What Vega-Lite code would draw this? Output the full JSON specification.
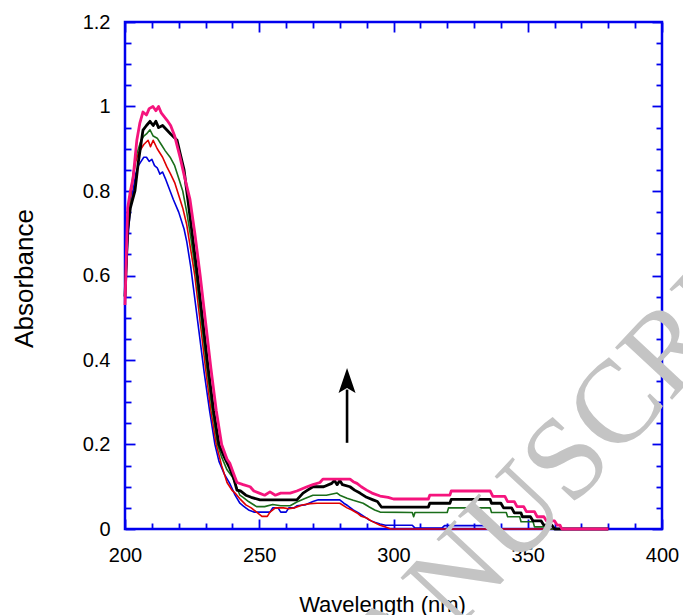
{
  "$schema": "https://vega.github.io/schema/vega-lite/v6.json",
  "width": 537,
  "height": 507,
  "autosize": {"type": "none"},
  "padding": {"left": 125, "top": 22, "right": 21, "bottom": 86},
  "background": "white",
  "config": {
    "view": {"stroke": "#0000ee", "strokeWidth": 2.5},
    "font": "Liberation Sans",
    "axis": {
      "domain": false,
      "grid": false,
      "labelFlush": false,
      "labelFont": "Liberation Sans",
      "labelFontSize": 20,
      "labelColor": "black",
      "titleFont": "Liberation Sans",
      "titleFontWeight": "normal",
      "titleColor": "black",
      "tickColor": "#0000ee",
      "tickWidth": 1.8
    }
  },
  "datasets": {
    "spectra": [
      {"s":"b","w":200,"a":0.55},{"s":"b","w":201,"a":0.68},{"s":"b","w":202,"a":0.76},{"s":"b","w":203,"a":0.8},{"s":"b","w":204,"a":0.84},{"s":"b","w":205,"a":0.86},{"s":"b","w":206,"a":0.87},{"s":"b","w":207,"a":0.88},{"s":"b","w":208,"a":0.88},{"s":"b","w":209,"a":0.87},{"s":"b","w":210,"a":0.875},{"s":"b","w":211,"a":0.86},{"s":"b","w":212,"a":0.855},{"s":"b","w":213,"a":0.84},{"s":"b","w":214,"a":0.845},{"s":"b","w":215,"a":0.83},{"s":"b","w":216.8,"a":0.8},{"s":"b","w":218,"a":0.78},{"s":"b","w":220,"a":0.75},{"s":"b","w":222,"a":0.71},{"s":"b","w":223,"a":0.68},{"s":"b","w":224.5,"a":0.62},{"s":"b","w":225.5,"a":0.57},{"s":"b","w":227.5,"a":0.47},{"s":"b","w":229.5,"a":0.37},{"s":"b","w":231.5,"a":0.28},{"s":"b","w":233.5,"a":0.2},{"s":"b","w":235,"a":0.16},{"s":"b","w":237,"a":0.13},{"s":"b","w":239,"a":0.108},{"s":"b","w":241,"a":0.08},{"s":"b","w":242.8,"a":0.061},{"s":"b","w":244,"a":0.055},{"s":"b","w":246,"a":0.045},{"s":"b","w":248,"a":0.04},{"s":"b","w":254,"a":0.04},{"s":"b","w":255,"a":0.05},{"s":"b","w":257,"a":0.05},{"s":"b","w":258,"a":0.04},{"s":"b","w":260,"a":0.04},{"s":"b","w":261,"a":0.05},{"s":"b","w":263,"a":0.05},{"s":"b","w":264,"a":0.055},{"s":"b","w":267,"a":0.057},{"s":"b","w":270,"a":0.065},{"s":"b","w":272,"a":0.069},{"s":"b","w":280,"a":0.069},{"s":"b","w":281.5,"a":0.061},{"s":"b","w":283,"a":0.055},{"s":"b","w":285,"a":0.045},{"s":"b","w":287,"a":0.038},{"s":"b","w":289,"a":0.03},{"s":"b","w":291,"a":0.021},{"s":"b","w":293,"a":0.016},{"s":"b","w":295,"a":0.012},{"s":"b","w":297,"a":0.009},{"s":"b","w":307,"a":0.009},{"s":"b","w":308,"a":0.002},{"s":"b","w":318,"a":0.002},{"s":"b","w":319,"a":0.008},{"s":"b","w":337,"a":0.008},{"s":"b","w":338,"a":0},{"s":"b","w":380,"a":0},
      {"s":"r","w":200,"a":0.55},{"s":"r","w":201,"a":0.7},{"s":"r","w":202,"a":0.78},{"s":"r","w":203,"a":0.83},{"s":"r","w":204,"a":0.87},{"s":"r","w":205,"a":0.89},{"s":"r","w":206,"a":0.9},{"s":"r","w":207,"a":0.91},{"s":"r","w":208.6,"a":0.92},{"s":"r","w":209.5,"a":0.905},{"s":"r","w":210.5,"a":0.92},{"s":"r","w":212,"a":0.9},{"s":"r","w":213,"a":0.89},{"s":"r","w":214,"a":0.88},{"s":"r","w":215.6,"a":0.857},{"s":"r","w":217,"a":0.84},{"s":"r","w":218.5,"a":0.82},{"s":"r","w":220,"a":0.79},{"s":"r","w":221.5,"a":0.76},{"s":"r","w":223,"a":0.72},{"s":"r","w":224.5,"a":0.66},{"s":"r","w":226,"a":0.6},{"s":"r","w":228,"a":0.49},{"s":"r","w":230,"a":0.38},{"s":"r","w":232,"a":0.28},{"s":"r","w":234,"a":0.2},{"s":"r","w":236,"a":0.15},{"s":"r","w":238,"a":0.11},{"s":"r","w":239.8,"a":0.092},{"s":"r","w":241,"a":0.085},{"s":"r","w":243,"a":0.07},{"s":"r","w":245,"a":0.057},{"s":"r","w":247,"a":0.05},{"s":"r","w":249,"a":0.04},{"s":"r","w":251,"a":0.03},{"s":"r","w":253,"a":0.03},{"s":"r","w":254,"a":0.04},{"s":"r","w":256,"a":0.05},{"s":"r","w":259,"a":0.05},{"s":"r","w":261,"a":0.048},{"s":"r","w":263,"a":0.05},{"s":"r","w":266,"a":0.057},{"s":"r","w":269,"a":0.06},{"s":"r","w":271.5,"a":0.061},{"s":"r","w":280,"a":0.061},{"s":"r","w":282.7,"a":0.05},{"s":"r","w":284.5,"a":0.045},{"s":"r","w":286.4,"a":0.038},{"s":"r","w":288,"a":0.03},{"s":"r","w":290,"a":0.026},{"s":"r","w":292,"a":0.018},{"s":"r","w":295,"a":0.009},{"s":"r","w":297,"a":0.005},{"s":"r","w":299,"a":0},{"s":"r","w":380,"a":0},
      {"s":"g","w":200,"a":0.56},{"s":"g","w":201,"a":0.7},{"s":"g","w":202,"a":0.79},{"s":"g","w":203,"a":0.84},{"s":"g","w":204,"a":0.88},{"s":"g","w":205,"a":0.9},{"s":"g","w":206,"a":0.92},{"s":"g","w":207,"a":0.93},{"s":"g","w":208,"a":0.935},{"s":"g","w":209.3,"a":0.945},{"s":"g","w":210.5,"a":0.93},{"s":"g","w":212,"a":0.925},{"s":"g","w":213.5,"a":0.91},{"s":"g","w":215,"a":0.895},{"s":"g","w":216.8,"a":0.88},{"s":"g","w":218.5,"a":0.86},{"s":"g","w":220,"a":0.83},{"s":"g","w":221.5,"a":0.8},{"s":"g","w":223,"a":0.75},{"s":"g","w":224.5,"a":0.69},{"s":"g","w":226.5,"a":0.6},{"s":"g","w":228.5,"a":0.49},{"s":"g","w":230.5,"a":0.38},{"s":"g","w":232.5,"a":0.28},{"s":"g","w":234.5,"a":0.2},{"s":"g","w":236,"a":0.17},{"s":"g","w":238,"a":0.14},{"s":"g","w":240,"a":0.123},{"s":"g","w":241.5,"a":0.1},{"s":"g","w":242.8,"a":0.08},{"s":"g","w":244,"a":0.075},{"s":"g","w":246,"a":0.065},{"s":"g","w":249,"a":0.053},{"s":"g","w":252,"a":0.053},{"s":"g","w":255,"a":0.058},{"s":"g","w":258,"a":0.055},{"s":"g","w":261.5,"a":0.055},{"s":"g","w":264,"a":0.064},{"s":"g","w":267,"a":0.072},{"s":"g","w":270,"a":0.08},{"s":"g","w":275,"a":0.08},{"s":"g","w":279,"a":0.085},{"s":"g","w":280,"a":0.08},{"s":"g","w":282.7,"a":0.073},{"s":"g","w":285,"a":0.068},{"s":"g","w":288.7,"a":0.061},{"s":"g","w":291,"a":0.052},{"s":"g","w":293,"a":0.045},{"s":"g","w":295,"a":0.04},{"s":"g","w":307,"a":0.039},{"s":"g","w":307.5,"a":0.029},{"s":"g","w":308,"a":0.039},{"s":"g","w":320,"a":0.039},{"s":"g","w":320.5,"a":0.05},{"s":"g","w":336,"a":0.05},{"s":"g","w":336.5,"a":0.039},{"s":"g","w":342,"a":0.039},{"s":"g","w":342.5,"a":0.029},{"s":"g","w":347,"a":0.029},{"s":"g","w":347.5,"a":0.017},{"s":"g","w":352,"a":0.017},{"s":"g","w":352.5,"a":0.005},{"s":"g","w":357,"a":0.005},{"s":"g","w":358,"a":0},{"s":"g","w":380,"a":0},
      {"s":"k","w":200,"a":0.55},{"s":"k","w":201,"a":0.71},{"s":"k","w":202,"a":0.76},{"s":"k","w":203.7,"a":0.8},{"s":"k","w":205,"a":0.87},{"s":"k","w":206.7,"a":0.944},{"s":"k","w":208,"a":0.955},{"s":"k","w":209.3,"a":0.965},{"s":"k","w":210.5,"a":0.955},{"s":"k","w":211.5,"a":0.965},{"s":"k","w":212.5,"a":0.95},{"s":"k","w":214,"a":0.955},{"s":"k","w":215.5,"a":0.945},{"s":"k","w":217,"a":0.935},{"s":"k","w":219.4,"a":0.92},{"s":"k","w":220.5,"a":0.89},{"s":"k","w":222,"a":0.85},{"s":"k","w":223,"a":0.8},{"s":"k","w":225,"a":0.7},{"s":"k","w":227,"a":0.6},{"s":"k","w":229,"a":0.49},{"s":"k","w":231,"a":0.38},{"s":"k","w":233,"a":0.28},{"s":"k","w":235,"a":0.2},{"s":"k","w":237,"a":0.17},{"s":"k","w":239,"a":0.144},{"s":"k","w":240.5,"a":0.12},{"s":"k","w":241.7,"a":0.092},{"s":"k","w":243,"a":0.09},{"s":"k","w":245,"a":0.08},{"s":"k","w":247,"a":0.075},{"s":"k","w":250.3,"a":0.069},{"s":"k","w":264,"a":0.069},{"s":"k","w":266.3,"a":0.085},{"s":"k","w":268,"a":0.092},{"s":"k","w":270,"a":0.1},{"s":"k","w":274,"a":0.1},{"s":"k","w":277,"a":0.108},{"s":"k","w":278,"a":0.115},{"s":"k","w":279,"a":0.105},{"s":"k","w":280,"a":0.115},{"s":"k","w":281,"a":0.105},{"s":"k","w":283.8,"a":0.1},{"s":"k","w":285.5,"a":0.092},{"s":"k","w":287.5,"a":0.085},{"s":"k","w":290,"a":0.075},{"s":"k","w":292.4,"a":0.069},{"s":"k","w":294,"a":0.065},{"s":"k","w":295.5,"a":0.052},{"s":"k","w":313,"a":0.052},{"s":"k","w":313.5,"a":0.061},{"s":"k","w":321,"a":0.061},{"s":"k","w":321.5,"a":0.07},{"s":"k","w":336,"a":0.07},{"s":"k","w":336.5,"a":0.061},{"s":"k","w":340,"a":0.061},{"s":"k","w":341,"a":0.05},{"s":"k","w":344,"a":0.05},{"s":"k","w":345,"a":0.038},{"s":"k","w":347.5,"a":0.038},{"s":"k","w":348,"a":0.029},{"s":"k","w":351,"a":0.029},{"s":"k","w":352,"a":0.019},{"s":"k","w":355,"a":0.019},{"s":"k","w":356,"a":0.009},{"s":"k","w":359,"a":0.009},{"s":"k","w":360,"a":0},{"s":"k","w":380,"a":0},
      {"s":"m","w":200,"a":0.53},{"s":"m","w":201,"a":0.76},{"s":"m","w":202,"a":0.8},{"s":"m","w":203,"a":0.83},{"s":"m","w":204.4,"a":0.92},{"s":"m","w":205.5,"a":0.96},{"s":"m","w":206.7,"a":0.987},{"s":"m","w":208,"a":0.98},{"s":"m","w":209,"a":0.995},{"s":"m","w":210.4,"a":1.0},{"s":"m","w":211.5,"a":0.99},{"s":"m","w":212.5,"a":1.0},{"s":"m","w":213.5,"a":0.985},{"s":"m","w":215.6,"a":0.968},{"s":"m","w":217,"a":0.955},{"s":"m","w":218.5,"a":0.93},{"s":"m","w":220.5,"a":0.88},{"s":"m","w":222.3,"a":0.83},{"s":"m","w":224.2,"a":0.78},{"s":"m","w":226,"a":0.7},{"s":"m","w":228,"a":0.6},{"s":"m","w":230,"a":0.49},{"s":"m","w":232,"a":0.38},{"s":"m","w":234,"a":0.28},{"s":"m","w":236,"a":0.2},{"s":"m","w":238,"a":0.165},{"s":"m","w":239,"a":0.156},{"s":"m","w":240.5,"a":0.13},{"s":"m","w":241.7,"a":0.11},{"s":"m","w":244,"a":0.105},{"s":"m","w":246.6,"a":0.1},{"s":"m","w":248,"a":0.09},{"s":"m","w":250,"a":0.085},{"s":"m","w":252,"a":0.08},{"s":"m","w":254,"a":0.088},{"s":"m","w":256,"a":0.08},{"s":"m","w":258,"a":0.085},{"s":"m","w":261.5,"a":0.085},{"s":"m","w":264,"a":0.09},{"s":"m","w":267.8,"a":0.1},{"s":"m","w":270,"a":0.105},{"s":"m","w":272.6,"a":0.11},{"s":"m","w":273.7,"a":0.118},{"s":"m","w":283.8,"a":0.118},{"s":"m","w":285,"a":0.112},{"s":"m","w":286.4,"a":0.108},{"s":"m","w":288,"a":0.1},{"s":"m","w":290,"a":0.092},{"s":"m","w":292,"a":0.085},{"s":"m","w":295,"a":0.078},{"s":"m","w":298,"a":0.075},{"s":"m","w":300,"a":0.071},{"s":"m","w":313,"a":0.071},{"s":"m","w":313.5,"a":0.08},{"s":"m","w":321,"a":0.08},{"s":"m","w":321.5,"a":0.09},{"s":"m","w":336,"a":0.09},{"s":"m","w":337,"a":0.077},{"s":"m","w":341.5,"a":0.077},{"s":"m","w":342.5,"a":0.065},{"s":"m","w":345,"a":0.065},{"s":"m","w":346,"a":0.053},{"s":"m","w":348.5,"a":0.053},{"s":"m","w":349.5,"a":0.041},{"s":"m","w":352.5,"a":0.041},{"s":"m","w":353.5,"a":0.029},{"s":"m","w":356,"a":0.029},{"s":"m","w":357,"a":0.019},{"s":"m","w":360,"a":0.019},{"s":"m","w":361,"a":0.009},{"s":"m","w":362,"a":0.009},{"s":"m","w":362.7,"a":0},{"s":"m","w":380,"a":0}
    ],
    "arrow": [{"w": 282.7, "a0": 0.204, "a1": 0.33, "tip": 0.322}],
    "watermark": [{"t": "MANUSCRIPT", "w": 274.5, "a": -0.575}]
  },
  "resolve": {"axis": {"x": "independent", "y": "independent"}},
  "layer": [
    {
      "data": {"name": "spectra"},
      "mark": {"type": "line", "strokeJoin": "round"},
      "encoding": {
        "x": {
          "field": "w", "type": "quantitative",
          "scale": {"domain": [200, 400], "nice": false, "zero": false},
          "axis": {
            "orient": "bottom",
            "values": [200,210,220,230,240,250,260,270,280,290,300,310,320,330,340,350,360,370,380,390,400],
            "format": "d",
            "labelExpr": "datum.value % 50 === 0 ? datum.label : ''",
            "tickSize": {"condition": {"test": "datum.value % 50 === 0", "value": -10}, "value": -6},
            "labelPadding": 26,
            "labelBaseline": "top",
            "title": "Wavelength (nm)",
            "titleFontSize": 22,
            "titleX": 257,
            "titleY": 82,
            "titleAlign": "center",
            "titleBaseline": "alphabetic"
          }
        },
        "y": {
          "field": "a", "type": "quantitative",
          "scale": {"domain": [0, 1.2], "nice": false},
          "axis": {
            "orient": "left",
            "values": [0,0.05,0.1,0.15,0.2,0.25,0.3,0.35,0.4,0.45,0.5,0.55,0.6,0.65,0.7,0.75,0.8,0.85,0.9,0.95,1,1.05,1.1,1.15,1.2],
            "format": "~g",
            "labelExpr": "abs(datum.value*5 - round(datum.value*5)) < 0.001 ? datum.label : ''",
            "tickSize": {"condition": {"test": "abs(datum.value*5 - round(datum.value*5)) < 0.001", "value": -10}, "value": -6},
            "labelPadding": 25,
            "labelAlign": "right",
            "labelBaseline": "middle",
            "title": "Absorbance",
            "titleFontSize": 26,
            "titleAngle": -90,
            "titleX": -93,
            "titleY": 256,
            "titleAlign": "center",
            "titleBaseline": "alphabetic"
          }
        },
        "color": {
          "field": "s", "type": "nominal",
          "scale": {"domain": ["b","r","g","k","m"], "range": ["#0000dd","#e00000","#1a6e1a","#000000","#f5147d"]},
          "legend": null
        },
        "strokeWidth": {
          "field": "s", "type": "ordinal",
          "scale": {"type": "ordinal", "domain": ["b","r","g","k","m"], "range": [1.6,1.6,1.6,2.8,2.8]},
          "legend": null
        }
      }
    },
    {
      "data": {"name": "arrow"},
      "mark": {"type": "rule", "color": "black", "strokeWidth": 2.6},
      "encoding": {
        "x": {
          "field": "w", "type": "quantitative",
          "axis": {
            "orient": "top",
            "values": [200,210,220,230,240,250,260,270,280,290,300,310,320,330,340,350,360,370,380,390,400],
            "labels": false,
            "tickSize": {"condition": {"test": "datum.value % 50 === 0", "value": -10}, "value": -6},
            "title": null
          }
        },
        "y": {
          "field": "a0", "type": "quantitative",
          "axis": {
            "orient": "right",
            "values": [0,0.05,0.1,0.15,0.2,0.25,0.3,0.35,0.4,0.45,0.5,0.55,0.6,0.65,0.7,0.75,0.8,0.85,0.9,0.95,1,1.05,1.1,1.15,1.2],
            "labels": false,
            "tickSize": {"condition": {"test": "abs(datum.value*5 - round(datum.value*5)) < 0.001", "value": -10}, "value": -6},
            "title": null
          }
        },
        "y2": {"field": "a1"}
      }
    },
    {
      "data": {"name": "arrow"},
      "mark": {"type": "point", "shape": "M0,-1L0.34,0L0,-0.2L-0.34,0Z", "size": 2500, "filled": true, "color": "black", "strokeWidth": 0, "opacity": 1},
      "encoding": {
        "x": {"field": "w", "type": "quantitative", "axis": null},
        "y": {"field": "tip", "type": "quantitative", "axis": null}
      }
    },
    {
      "data": {"name": "watermark"},
      "mark": {"type": "text", "font": "Liberation Serif", "fontSize": 118, "color": "#c4c4c4", "angle": 313, "align": "left", "baseline": "alphabetic"},
      "encoding": {
        "x": {"field": "w", "type": "quantitative", "axis": null},
        "y": {"field": "a", "type": "quantitative", "axis": null},
        "text": {"field": "t"}
      }
    }
  ]
}
